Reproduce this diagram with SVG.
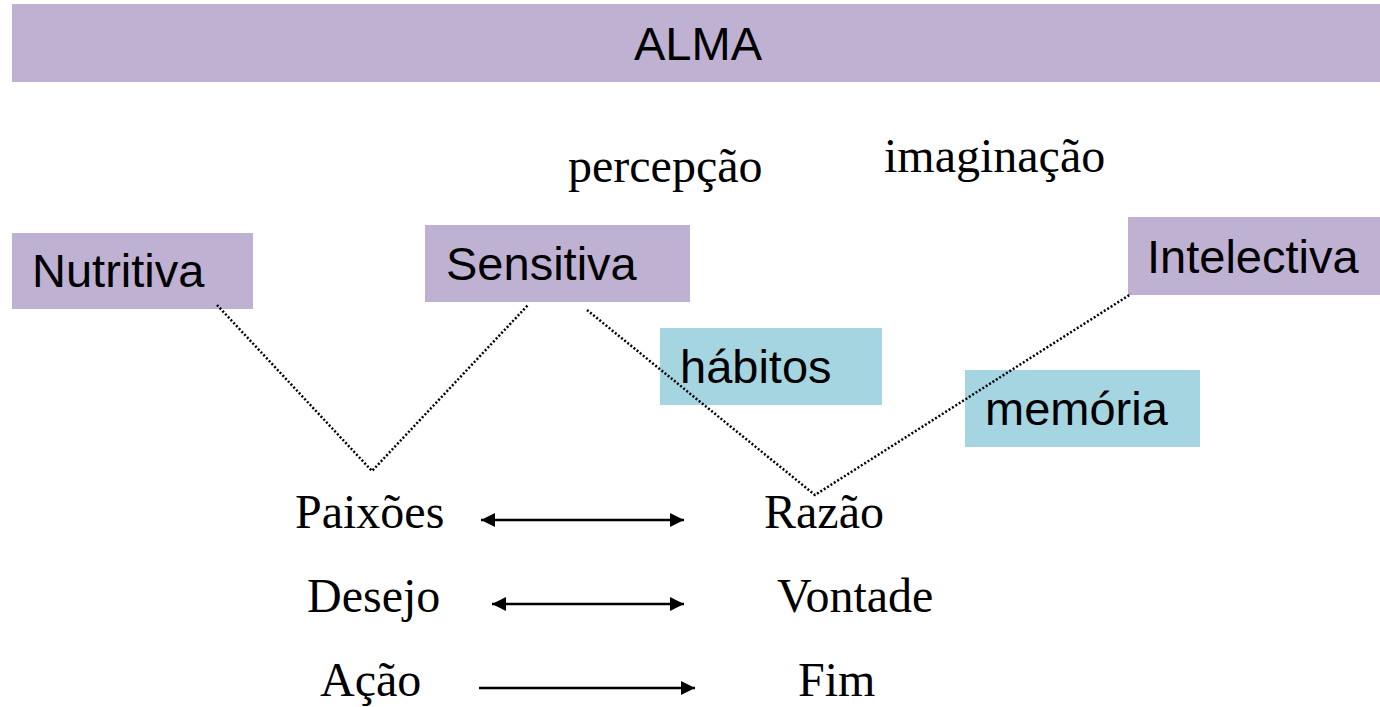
<svg xmlns="http://www.w3.org/2000/svg" width="1380" height="707" viewBox="0 0 1380 707">
<style>
.p{fill:#BFB1D2}
.c{fill:#A6D5E2}
.s{font-family:"Liberation Sans",Arial,sans-serif;font-size:47px;fill:#000}
.t{font-family:"Liberation Serif","Times New Roman",serif;font-size:48px;fill:#000}
.d{stroke:#000;stroke-width:2.5;stroke-dasharray:2 2;fill:none}
.a{stroke:#000;stroke-width:2.5;fill:none}
</style>
<defs>
<marker id="hd" viewBox="0 0 10 10" refX="10" refY="5" markerWidth="16" markerHeight="14" markerUnits="userSpaceOnUse" orient="auto-start-reverse">
<path d="M0,0 L10,5 L0,10 z" fill="#000"/>
</marker>
</defs>
<g id="alma"><rect class="p" x="12" y="4" width="1368" height="78"/><text class="s" x="698" y="60" text-anchor="middle">ALMA</text></g>
<g id="percepcao"><text class="t" x="568" y="182">percepção</text></g>
<g id="imaginacao"><text class="t" x="884" y="172">imaginação</text></g>
<g id="nutritiva"><rect class="p" x="12" y="233" width="241" height="76"/><text class="s" x="32" y="287">Nutritiva</text></g>
<g id="sensitiva"><rect class="p" x="425" y="225" width="265" height="77"/><text class="s" x="446" y="280">Sensitiva</text></g>
<g id="intelectiva"><rect class="p" x="1128" y="217" width="252" height="78"/><text class="s" x="1147" y="273">Intelectiva</text></g>
<g id="habitos"><rect class="c" x="660" y="328" width="222" height="77"/><text class="s" x="680" y="383">hábitos</text></g>
<g id="memoria"><rect class="c" x="965" y="370" width="235" height="77"/><text class="s" x="985" y="425">memória</text></g>
<g id="connectors">
<polyline class="d" points="217,305 372,471 528,305"/>
<polyline class="d" points="587,310 815,495 1131,294"/>
<line class="a" x1="481" y1="520" x2="684" y2="520" marker-start="url(#hd)" marker-end="url(#hd)"/>
<line class="a" x1="492" y1="604" x2="684" y2="604" marker-start="url(#hd)" marker-end="url(#hd)"/>
<line class="a" x1="479" y1="688" x2="695" y2="688" marker-end="url(#hd)"/>
</g>
<g id="paixoes"><text class="t" x="295" y="528">Paixões</text></g>
<g id="razao"><text class="t" x="764" y="528">Razão</text></g>
<g id="desejo"><text class="t" x="307" y="612">Desejo</text></g>
<g id="vontade"><text class="t" x="777" y="612">Vontade</text></g>
<g id="acao"><text class="t" x="320" y="696">Ação</text></g>
<g id="fim"><text class="t" x="798" y="696">Fim</text></g>
</svg>
